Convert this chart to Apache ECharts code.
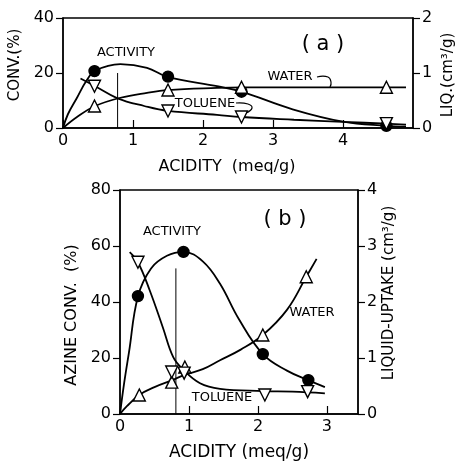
<!DOCTYPE html>
<html>
<head>
	<meta charset="utf-8">
	<title>Acidity chart</title>
	<script src="https://cdn.jsdelivr.net/npm/echarts@6/dist/echarts.min.js"></script>
	<style type="text/css">
		* { padding: 0; margin: 0; }
		body { background: #fff; }
		#main { width: 458px; height: 464px; }
	</style>
</head>
<body>
	<div id="main"></div>
	<script type="text/javascript">
		// panel (a) : measured points
		var actPtsA = [[0.45, 20.7], [1.5, 18.7], [2.55, 13.2], [4.62, 0.8]];
		var waterPtsA = [[0.45, 0.4], [1.5, 0.69], [2.55, 0.74], [4.62, 0.74]];
		var toluPtsA = [[0.45, 0.76], [1.5, 0.31], [2.55, 0.2], [4.62, 0.08]];
		// panel (a) : hand drawn curves
		var actLineA = [[0, 0], [0.07, 5], [0.2, 11], [0.33, 17], [0.46, 20.8], [0.82, 23.2], [1.2, 21.9], [1.49, 18.6], [2.22, 15.1], [2.55, 13.2], [3.28, 6.8], [4.0, 2.3], [4.62, 0.8], [4.9, 0.5]];
		var waterLineA = [[0, 0], [0.2, 0.2], [0.46, 0.4], [0.82, 0.55], [1.2, 0.64], [1.5, 0.69], [2.2, 0.73], [2.55, 0.74], [4.9, 0.74]];
		var toluLineA = [[0.25, 0.9], [0.46, 0.76], [0.78, 0.54], [1.16, 0.4], [1.5, 0.31], [2.2, 0.24], [2.55, 0.2], [3.3, 0.15], [4.0, 0.11], [4.62, 0.08], [4.9, 0.06]];
		var peakA = [[0.78, 0], [0.78, 20]];

		// panel (b)
		var actPtsB = [[0.26, 42.1], [0.92, 57.9], [2.07, 21.4], [2.73, 12.1]];
		var waterPtsB = [[0.28, 0.34], [0.75, 0.57], [0.94, 0.84], [2.07, 1.41], [2.7, 2.45]];
		var toluPtsB = [[0.26, 2.71], [0.75, 0.75], [0.93, 0.73], [2.1, 0.34], [2.72, 0.4]];
		var actLineB = [[0, 0], [0.06, 11], [0.13, 22], [0.26, 42], [0.45, 52], [0.68, 56.5], [0.92, 57.9], [1.2, 54.5], [1.45, 46.5], [1.72, 34], [2.07, 21.4], [2.42, 15.5], [2.73, 12.1], [2.97, 9.6]];
		var waterLineB = [[0, 0], [0.1, 0.14], [0.28, 0.34], [0.5, 0.48], [0.75, 0.6], [0.94, 0.7], [1.2, 0.8], [1.45, 0.96], [1.75, 1.15], [2.07, 1.41], [2.42, 1.86], [2.7, 2.45], [2.85, 2.77]];
		var toluLineB = [[0.14, 2.89], [0.26, 2.71], [0.43, 2.21], [0.62, 1.55], [0.77, 1.02], [0.91, 0.8], [1.16, 0.55], [1.45, 0.45], [2.07, 0.41], [2.5, 0.4], [2.97, 0.37]];
		var peakB = [[0.81, 0], [0.81, 52]];

		var font = 'DejaVu Sans';
		var axisLine = { lineStyle: { color: '#000', width: 1.5 } };

		function xAxis(grid, max) {
			return {
				type: 'value', gridIndex: grid, min: 0, max: max, interval: 1,
				axisLine: axisLine,
				axisTick: { inside: true, length: 8, lineStyle: { color: '#000', width: 1.2 } },
				axisLabel: { color: '#000', fontSize: 16, fontFamily: font, margin: 5, showMaxLabel: false,
					formatter: function (v) { return v % 1 === 0 ? v : ''; } },
				splitLine: { show: false }
			};
		}
		function yAxis(grid, max, interval, pos) {
			return {
				type: 'value', gridIndex: grid, min: 0, max: max, interval: interval, position: pos,
				axisLine: { show: true, lineStyle: { color: '#000', width: 1.5 } },
				axisTick: { show: true, length: 7, lineStyle: { color: '#000', width: 1.2 } },
				axisLabel: { color: '#000', fontSize: 16, fontFamily: font, margin: 9 },
				splitLine: { show: false }
			};
		}
		function curve(x, y, data) {
			return { type: 'line', xAxisIndex: x, yAxisIndex: y, data: data, smooth: 0.4, symbol: 'none',
				lineStyle: { color: '#000', width: 1.8 }, silent: true, z: 2 };
		}
		function thin(x, y, data) {
			return { type: 'line', xAxisIndex: x, yAxisIndex: y, data: data, symbol: 'none',
				lineStyle: { color: '#000', width: 1 }, silent: true, z: 1 };
		}
		function dots(x, y, data, sym, rot, filled) {
			return { type: 'scatter', xAxisIndex: x, yAxisIndex: y, data: data, symbol: sym, symbolSize: sym === 'circle' ? 11 : 12,
				symbolRotate: rot,
				itemStyle: { color: filled ? '#000' : '#fff', borderColor: '#000', borderWidth: 1.4, opacity: 1 }, z: 5 };
		}
		function txt(x, y, s, size, rot) {
			return { type: 'text', x: x, y: y, rotation: rot || 0,
				style: { text: s, fill: '#000', font: size + 'px "' + font + '"', textAlign: 'center', textVerticalAlign: 'middle' } };
		}
		function arrow(points) {
			return { type: 'polyline', shape: { points: points, smooth: 0.5 }, style: { stroke: '#000', lineWidth: 1.2, fill: null } };
		}

		var chart = echarts.init(document.getElementById('main'));
		chart.setOption({
			backgroundColor: '#fff',
			animation: false,
			grid: [
				{ left: 63, top: 18, width: 350, height: 110, show: true, borderColor: '#000', borderWidth: 1.3 },
				{ left: 120, top: 190, width: 238, height: 224, show: true, borderColor: '#000', borderWidth: 1.3 }
			],
			xAxis: [xAxis(0, 5), xAxis(1, 3.45)],
			yAxis: [yAxis(0, 40, 20, 'left'), yAxis(0, 2, 1, 'right'), yAxis(1, 80, 20, 'left'), yAxis(1, 4, 1, 'right')],
			series: [
				curve(0, 0, actLineA), curve(0, 1, waterLineA), curve(0, 1, toluLineA), thin(0, 0, peakA),
				dots(0, 0, actPtsA, 'circle', 0, true), dots(0, 1, waterPtsA, 'triangle', 0, false), dots(0, 1, toluPtsA, 'triangle', 180, false),
				curve(1, 2, actLineB), curve(1, 3, waterLineB), curve(1, 3, toluLineB), thin(1, 2, peakB),
				dots(1, 2, actPtsB, 'circle', 0, true), dots(1, 3, waterPtsB, 'triangle', 0, false), dots(1, 3, toluPtsB, 'triangle', 180, false)
			],
			graphic: [
				txt(15, 65, 'CONV.(%)', 15, Math.PI / 2),
				txt(448, 75, 'LIQ.(cm³/g)', 15, Math.PI / 2),
				txt(227, 167, 'ACIDITY  (meq/g)', 16),
				txt(126, 53, 'ACTIVITY', 13),
				txt(323, 45, '( a )', 21),
				txt(290, 77, 'WATER', 13),
				txt(205, 104, 'TOLUENE', 13),
				arrow([[317, 77], [328, 77], [331, 82], [330, 87]]),
				arrow([[236, 103], [248, 104], [252, 108], [246, 113]]),
				txt(72, 315, 'AZINE CONV.  (%)', 16, Math.PI / 2),
				txt(389, 293, 'LIQUID-UPTAKE (cm³/g)', 15, Math.PI / 2),
				txt(239, 453, 'ACIDITY (meq/g)', 17),
				txt(172, 232, 'ACTIVITY', 13),
				txt(285, 220, '( b )', 21),
				txt(312, 313, 'WATER', 13),
				txt(222, 398, 'TOLUENE', 13)
			]
		});
	</script>
</body>
</html>
